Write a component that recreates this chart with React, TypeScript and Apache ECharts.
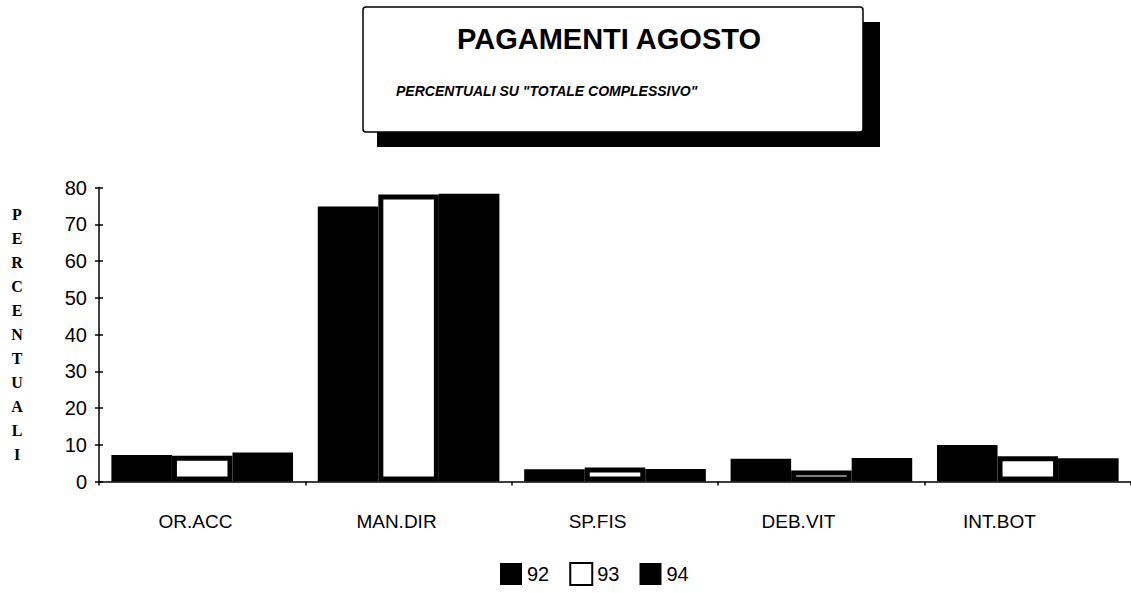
import React, { useEffect, useRef } from "react";
import * as echarts from "echarts";

const categories = ["OR.ACC", "MAN.DIR", "SP.FIS", "DEB.VIT", "INT.BOT"];
const seriesNames = ["92", "93", "94"];
const values92 = [7.2, 74.8, 3.3, 6.2, 9.9];
const values93 = [7.0, 78.1, 3.8, 3.0, 6.9];
const values94 = [7.9, 78.3, 3.4, 6.4, 6.3];
const yMin = 0;
const yMax = 80;
const yInterval = 10;
const titleText = "PAGAMENTI AGOSTO";
const subtitleText = 'PERCENTUALI SU "TOTALE COMPLESSIVO"';
const yAxisTitle = "PERCENTUALI";

export default function App() {
  const ref = useRef<HTMLDivElement>(null);
  useEffect(() => {
    if (!ref.current) return;
    const chart = echarts.init(ref.current, null, { renderer: "svg" });
    const sans = "Liberation Sans, Arial, sans-serif";
    const axisLabelStyle = { color: "#000", fontFamily: sans, fontSize: 20 };
    chart.setOption({
      animation: false,
      backgroundColor: "#fff",
      grid: [
        { left: 99, top: 187.5, height: 294, right: -8 },
        { left: 95, top: 187.5, height: 294, width: 1005 },
      ],
      xAxis: [
        {
          type: "category",
          gridIndex: 0,
          data: categories,
          axisLine: { lineStyle: { color: "#000", width: 1.5 } },
          axisTick: { show: true, length: 4, lineStyle: { color: "#000", width: 1.5 } },
          axisLabel: { show: false },
        },
        {
          type: "category",
          gridIndex: 1,
          data: categories,
          axisLine: { show: false },
          axisTick: { show: false },
          axisLabel: { ...axisLabelStyle, fontSize: 19, margin: 30 },
        },
      ],
      yAxis: [
        {
          type: "value",
          gridIndex: 0,
          min: yMin,
          max: yMax,
          interval: yInterval,
          axisLine: { show: true, lineStyle: { color: "#000", width: 1.5 } },
          axisTick: { show: true, length: 4, lineStyle: { color: "#000", width: 1.5 } },
          axisLabel: { ...axisLabelStyle, margin: 12 },
          splitLine: { show: false },
        },
        {
          type: "value",
          gridIndex: 0,
          min: yMin,
          max: yMax,
          interval: yInterval,
          position: "left",
          axisLine: { show: false },
          axisTick: { show: true, inside: true, length: 4, lineStyle: { color: "#000", width: 1.5 } },
          axisLabel: { show: false },
          splitLine: { show: false },
        },
        {
          type: "value",
          gridIndex: 1,
          show: false,
          min: yMin,
          max: yMax,
        },
      ],
      legend: {
        data: seriesNames,
        left: 495,
        top: 557,
        icon: "rect",
        itemWidth: 22,
        itemHeight: 22,
        itemGap: 20,
        textStyle: { color: "#000", fontFamily: sans, fontSize: 20 },
      },
      series: [
        {
          name: seriesNames[0],
          type: "bar",
          data: values92,
          barGap: "0%",
          barCategoryGap: "12%",
          itemStyle: { color: "#000" },
        },
        {
          name: seriesNames[1],
          type: "bar",
          data: values93,
          barGap: "0%",
          barCategoryGap: "12%",
          itemStyle: { color: "#fff", borderColor: "#000", borderWidth: 5 },
        },
        {
          name: seriesNames[2],
          type: "bar",
          data: values94,
          barGap: "0%",
          barCategoryGap: "12%",
          itemStyle: { color: "#000" },
        },
      ],
      graphic: [
        { type: "rect", shape: { x: 377, y: 22, width: 503, height: 125 }, style: { fill: "#000" } },
        {
          type: "rect",
          shape: { x: 363, y: 7, width: 500, height: 125, r: 3 },
          style: { fill: "#fff", stroke: "#000", lineWidth: 1.5 },
        },
        {
          type: "text",
          x: 609,
          y: 39,
          style: {
            text: titleText,
            font: `bold 29px ${sans}`,
            fill: "#000",
            align: "center",
            verticalAlign: "middle",
          },
        },
        {
          type: "text",
          x: 396,
          y: 91,
          style: {
            text: subtitleText,
            font: `italic bold 14px ${sans}`,
            fill: "#000",
            align: "left",
            verticalAlign: "middle",
          },
        },
        {
          type: "text",
          x: 17,
          y: 334,
          style: {
            text: yAxisTitle.split("").join("\n"),
            font: "bold 16px Liberation Serif, Times New Roman, serif",
            lineHeight: 24,
            fill: "#000",
            align: "center",
            verticalAlign: "middle",
          },
        },
      ],
    });
    return () => chart.dispose();
  }, []);
  return (
    <div
      ref={ref}
      style={{ position: "fixed", left: 0, top: 0, width: 1131, height: 593, background: "#fff" }}
    />
  );
}
